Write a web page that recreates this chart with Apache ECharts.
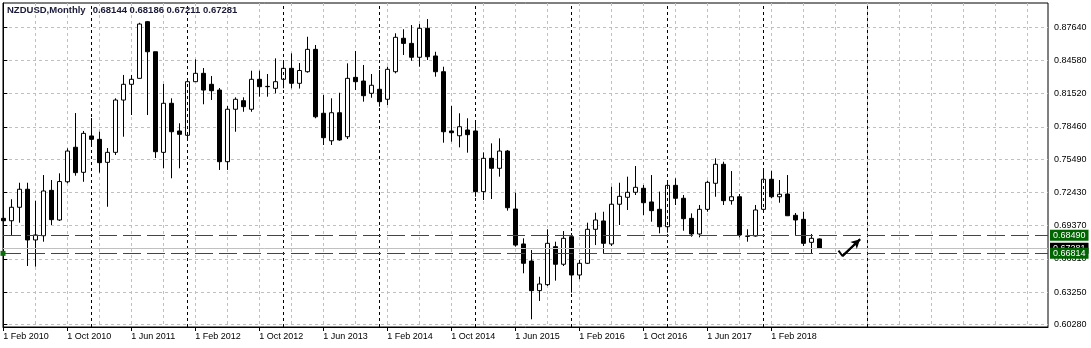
<!DOCTYPE html>
<html><head><meta charset="utf-8">
<script src="https://cdn.jsdelivr.net/npm/echarts@6/dist/echarts.min.js"></script>
<style>html,body{margin:0;padding:0;background:#fff;}#c{width:1091px;height:348px;}</style>
</head><body><div id="c"></div>
<script>
// ---- data (NZDUSD monthly) ----
const months = [
 'Feb 2010','Mar 2010','Apr 2010','May 2010','Jun 2010','Jul 2010','Aug 2010','Sep 2010','Oct 2010','Nov 2010','Dec 2010',
 'Jan 2011','Feb 2011','Mar 2011','Apr 2011','May 2011','Jun 2011','Jul 2011','Aug 2011','Sep 2011','Oct 2011','Nov 2011','Dec 2011',
 'Jan 2012','Feb 2012','Mar 2012','Apr 2012','May 2012','Jun 2012','Jul 2012','Aug 2012','Sep 2012','Oct 2012','Nov 2012','Dec 2012',
 'Jan 2013','Feb 2013','Mar 2013','Apr 2013','May 2013','Jun 2013','Jul 2013','Aug 2013','Sep 2013','Oct 2013','Nov 2013','Dec 2013',
 'Jan 2014','Feb 2014','Mar 2014','Apr 2014','May 2014','Jun 2014','Jul 2014','Aug 2014','Sep 2014','Oct 2014','Nov 2014','Dec 2014',
 'Jan 2015','Feb 2015','Mar 2015','Apr 2015','May 2015','Jun 2015','Jul 2015','Aug 2015','Sep 2015','Oct 2015','Nov 2015','Dec 2015',
 'Jan 2016','Feb 2016','Mar 2016','Apr 2016','May 2016','Jun 2016','Jul 2016','Aug 2016','Sep 2016','Oct 2016','Nov 2016','Dec 2016',
 'Jan 2017','Feb 2017','Mar 2017','Apr 2017','May 2017','Jun 2017','Jul 2017','Aug 2017','Sep 2017','Oct 2017','Nov 2017','Dec 2017',
 'Jan 2018','Feb 2018','Mar 2018','Apr 2018','May 2018','Jun 2018','Jul 2018','Aug 2018'
];
const opens = [
 0.7004,0.6982,0.7106,0.7272,0.6805,0.6844,0.7262,0.6989,0.7341,0.7659,0.7428,
 0.7763,0.7732,0.7520,0.7612,0.8094,0.8239,0.8294,0.8816,0.8539,0.7612,0.8064,0.7809,
 0.7769,0.8263,0.8340,0.8239,0.8186,0.7526,0.8009,0.8088,0.8009,0.8285,0.8217,0.8202,
 0.8285,0.8386,0.8248,0.8355,0.8561,0.7972,0.7719,0.7977,0.7756,0.8303,0.8269,0.8156,
 0.8193,0.8101,0.8355,0.8663,0.8616,0.8488,0.8755,0.8500,0.8355,0.7809,0.7765,0.7818,
 0.7809,0.7250,0.7557,0.7465,0.7624,0.7090,0.6768,0.6611,0.6338,0.6393,0.6743,0.6581,
 0.6835,0.6482,0.6590,0.6903,0.6980,0.6768,0.7134,0.7198,0.7244,0.7281,0.7155,0.7087,
 0.6927,0.7308,0.7189,0.7004,0.6860,0.7087,0.7327,0.7502,0.7167,0.7203,0.6841,0.6841,
 0.7087,0.7364,0.7203,0.7228,0.7032,0.6995,0.6783,0.68144
];
const closes = [
 0.6982,0.7106,0.7272,0.6805,0.6851,0.7256,0.6992,0.7343,0.7624,0.7425,0.7787,
 0.7732,0.7517,0.7612,0.8094,0.8239,0.8285,0.8794,0.8539,0.7618,0.8064,0.7802,0.7778,
 0.8263,0.8340,0.8186,0.8180,0.7526,0.8009,0.8101,0.8033,0.8285,0.8217,0.8220,0.8263,
 0.8386,0.8248,0.8366,0.8561,0.7940,0.7747,0.7977,0.7726,0.8294,0.8263,0.8134,0.8230,
 0.8079,0.8377,0.8672,0.8616,0.8488,0.8755,0.8493,0.8355,0.7802,0.7793,0.7848,0.7775,
 0.7250,0.7557,0.7465,0.7624,0.7102,0.6758,0.6590,0.6338,0.6399,0.6774,0.6581,0.6820,
 0.6482,0.6590,0.6903,0.6989,0.6774,0.7134,0.7207,0.7244,0.7290,0.7148,0.7075,0.6927,
 0.7308,0.7189,0.7001,0.6860,0.7087,0.7336,0.7502,0.7167,0.7203,0.6851,0.6839,0.7081,
 0.7364,0.7203,0.7226,0.7028,0.6989,0.6774,0.6820,0.67281
];
const highs = [
 0.7157,0.7180,0.7332,0.7332,0.7167,0.7403,0.7357,0.7419,0.7649,0.7974,0.7809,
 0.7928,0.7802,0.7652,0.8110,0.8325,0.8325,0.8806,0.8822,0.8539,0.8242,0.8110,0.7880,
 0.8279,0.8469,0.8389,0.8315,0.8205,0.8039,0.8119,0.8119,0.8364,0.8364,0.8334,0.8478,
 0.8463,0.8524,0.8435,0.8677,0.8601,0.8140,0.8110,0.8161,0.8432,0.8546,0.8417,0.8334,
 0.8371,0.8401,0.8709,0.8746,0.8785,0.8794,0.8840,0.8539,0.8401,0.8039,0.7972,0.7926,
 0.7885,0.7612,0.7695,0.7741,0.7634,0.7240,0.6820,0.6712,0.6466,0.6903,0.6789,0.6887,
 0.6869,0.6620,0.6964,0.7056,0.7065,0.7296,0.7332,0.7388,0.7486,0.7311,0.7403,0.7250,
 0.7357,0.7373,0.7219,0.7050,0.7127,0.7351,0.7557,0.7526,0.7440,0.7228,0.6903,0.7127,
 0.7450,0.7443,0.7357,0.7403,0.7053,0.7065,0.6860,0.68186
];
const lows = [
 0.6820,0.6851,0.6964,0.6565,0.6559,0.6789,0.6943,0.6980,0.7327,0.7397,0.7341,
 0.7670,0.7425,0.7111,0.7588,0.7756,0.7956,0.8292,0.7956,0.7560,0.7465,0.7373,0.7465,
 0.7726,0.8260,0.8055,0.8094,0.7450,0.7450,0.7802,0.7986,0.7986,0.8125,0.8125,0.8156,
 0.8202,0.8202,0.8200,0.8346,0.7926,0.7680,0.7680,0.7719,0.7735,0.8186,0.8079,0.8115,
 0.8033,0.8048,0.8340,0.8509,0.8456,0.8401,0.8463,0.8309,0.7701,0.7710,0.7658,0.7609,
 0.7203,0.7173,0.7182,0.7388,0.7075,0.6743,0.6498,0.6074,0.6243,0.6381,0.6430,0.6565,
 0.6319,0.6443,0.6583,0.6758,0.6682,0.6749,0.6943,0.7081,0.7219,0.7035,0.6973,0.6866,
 0.6872,0.7127,0.6890,0.6835,0.6829,0.7065,0.7203,0.7127,0.7130,0.6829,0.6789,0.6835,
 0.7081,0.7189,0.7148,0.7026,0.6851,0.6749,0.6682,0.67211
];
const yTickLabels = ['0.60280','0.63250','0.66310','0.69370','0.72430','0.75490','0.78460','0.81520','0.84580','0.87640'];
const xTickMonths = [0,8,16,24,32,40,48,56,64,72,80,88,96];
const xTickLabels = ['1 Feb 2010','1 Oct 2010','1 Jun 2011','1 Feb 2012','1 Oct 2012','1 Jun 2013','1 Feb 2014',
                     '1 Oct 2014','1 Jun 2015','1 Feb 2016','1 Oct 2016','1 Jun 2017','1 Feb 2018'];
const gridMonths = [0,4,8,12,16,20,24,28,32,36,40,44,48,52,56,60,64,68,72,76,80,84,88,92,96,100,104,108,112,116,120,124,128];
const separatorMonths = [11,23,35,47,59,71,83,95,108];
const levelUpper = 0.68490;
const levelLower = 0.66814;
const lastPrice = 0.67281;
const arrowPath = [[104.4,0.6706],[104.9,0.6657],[107.1,0.6811]];
const headerText = 'NZDUSD,Monthly';
const headerValues = '0.68144 0.68186 0.67211 0.67281';

// ---- build ----
const yTickValues = yTickLabels.map(Number);
const candles = months.map((m, i) => [i, opens[i], closes[i], lows[i], highs[i]]);
const FONT = "'Liberation Sans', Arial, sans-serif";
const GREEN = '#0b6e0b';
const xMin = -0.04, xMax = 130.59, yMin = 0.6003, yMax = 0.8988;

const chart = echarts.init(document.getElementById('c'), null, {renderer: 'canvas'});
chart.setOption({
  animation: false,
  backgroundColor: '#ffffff',
  title: {
    left: 7, top: 5, padding: 0,
    text: '{a|' + headerText + '}{b|' + headerValues + '}',
    textStyle: {
      rich: {
        a: {fontFamily: FONT, fontSize: 9.5, color: '#1a1a3a'},
        b: {fontFamily: FONT, fontSize: 9.5, color: '#1a1a3a', padding: [0, 0, 0, 7]}
      }
    }
  },
  grid: {left: 3, right: 43, top: 3, bottom: 21, show: true, borderColor: '#000', borderWidth: 1, backgroundColor: '#fff'},
  xAxis: [{
    type: 'value', min: xMin, max: xMax, position: 'bottom',
    axisLine: {show: true, lineStyle: {color: '#000', width: 1}},
    axisTick: {show: true, length: 4, customValues: xTickMonths, lineStyle: {color: '#000'}},
    axisLabel: {show: true, customValues: xTickMonths, align: 'left', margin: 5,
      fontFamily: FONT, fontSize: 9, color: '#000',
      formatter: v => { const k = xTickMonths.indexOf(Math.round(v)); return k >= 0 ? xTickLabels[k] : ''; }},
    splitLine: {show: false}
  }, {
    type: 'value', min: xMin, max: xMax, position: 'bottom',
    axisLine: {show: false}, axisLabel: {show: false},
    axisTick: {show: false, customValues: gridMonths},
    splitLine: {show: true, lineStyle: {color: '#c0c0c0', type: [3, 3], width: 1}}
  }],
  yAxis: {
    type: 'value', min: yMin, max: yMax, position: 'right',
    axisLine: {show: true, lineStyle: {color: '#000', width: 1}},
    axisTick: {show: true, length: 4, customValues: yTickValues, lineStyle: {color: '#000'}},
    axisLabel: {show: true, customValues: yTickValues, margin: 6, fontFamily: FONT, fontSize: 9, color: '#000',
      formatter: v => { const k = yTickValues.findIndex(t => Math.abs(t - v) < 1e-7); return k >= 0 ? yTickLabels[k] : v.toFixed(5); }},
    splitLine: {show: true, lineStyle: {color: '#c0c0c0', type: [3, 3], width: 1}}
  },
  series: [
    { // period separators (under the bars)
      type: 'line', data: [], z: 1, clip: false, silent: true,
      markLine: {silent: true, symbol: ['none', 'none'], animation: false, precision: 5,
        label: {show: false},
        lineStyle: {color: '#000', type: [3, 3], width: 1},
        data: separatorMonths.map(m => ({xAxis: m}))}
    },
    {
      type: 'candlestick', data: candles, z: 3, barWidth: 4, clip: true,
      itemStyle: {color: '#ffffff', color0: '#000000', borderColor: '#000000', borderColor0: '#000000', borderWidth: 1}
    },
    { // last price line
      type: 'line', data: [], z: 4, clip: false, silent: true,
      markLine: {silent: true, symbol: ['none', 'none'], animation: false, precision: 5,
        lineStyle: {color: '#c0c0c0', type: 'solid', width: 1},
        label: {show: true, position: 'end', distance: 2, formatter: p => Number(p.value).toFixed(5),
          color: '#fff', backgroundColor: '#000', padding: [1, 3, 1, 3], fontFamily: FONT, fontSize: 9, lineHeight: 9},
        data: [{yAxis: lastPrice}]}
    },
    { // horizontal levels
      type: 'line', data: [], z: 5, clip: false, silent: true,
      markLine: {silent: true, symbol: ['none', 'none'], animation: false, precision: 5,
        lineStyle: {color: GREEN, type: [18, 6], width: 1, opacity: 1},
        label: {show: true, position: 'end', distance: 2, formatter: p => Number(p.value).toFixed(5),
          color: '#fff', backgroundColor: '#006400', padding: [1, 3, 1, 3], fontFamily: FONT, fontSize: 9, lineHeight: 9},
        data: [{yAxis: levelUpper, lineStyle: {color: GREEN}},
               {yAxis: levelLower, lineStyle: {color: GREEN}, symbol: ['emptyRect', 'emptyRect'], symbolSize: 5}]}
    },
    { // arrow
      type: 'line', data: arrowPath, z: 6, clip: false, silent: true,
      showSymbol: false, symbol: 'none',
      lineStyle: {color: '#000', width: 2},
      markLine: {silent: true, animation: false, symbol: ['none', 'arrow'], symbolSize: [7, 9], precision: 5,
        label: {show: false},
        lineStyle: {color: '#000', type: 'solid', width: 2},
        data: [[{coord: arrowPath[1]}, {coord: arrowPath[2]}]]}
    }
  ]
});
</script></body></html>
